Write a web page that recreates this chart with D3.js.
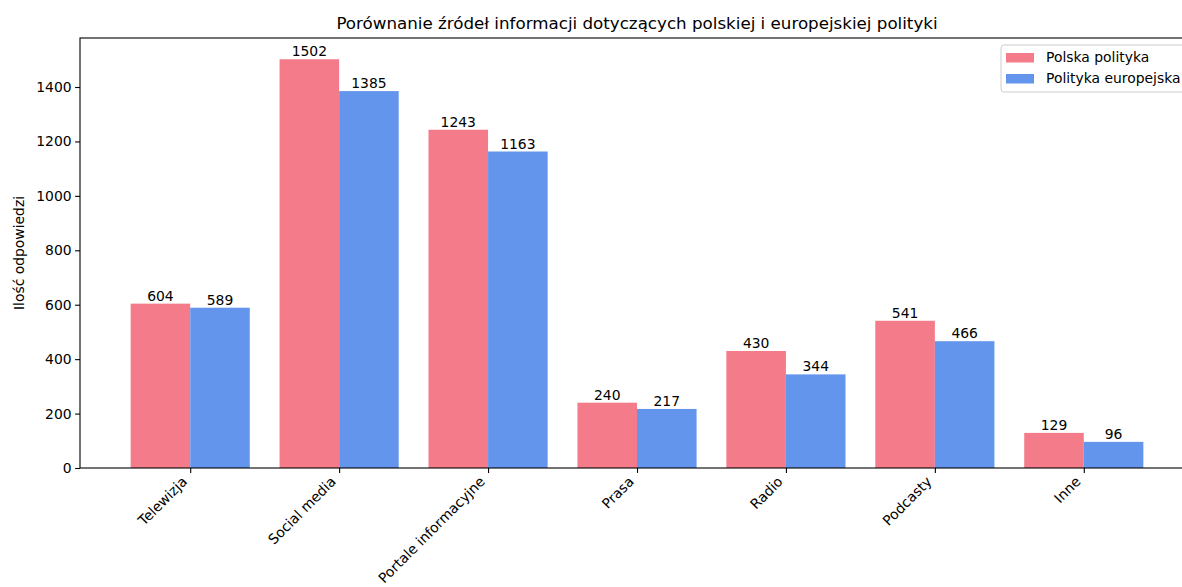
<!DOCTYPE html>
<html>
<head>
<meta charset="utf-8">
<script src="https://cdn.jsdelivr.net/npm/d3@7"></script>
<style>
  body { margin: 0; background: #fff; }
  svg text { font-family: "DejaVu Sans", sans-serif; fill: #000; }
</style>
</head>
<body>
<svg id="chart" width="1182" height="587"></svg>
<script>
const categories = ["Telewizja", "Social media", "Portale informacyjne", "Prasa", "Radio", "Podcasty", "Inne"];
const polskaValues = [604, 1502, 1243, 240, 430, 541, 129];
const europejskaValues = [589, 1385, 1163, 217, 344, 466, 96];
const seriesNames = ["Polska polityka", "Polityka europejska"];
const seriesColors = ["#f47c8a", "#6495ed"];
const yTicks = [0, 200, 400, 600, 800, 1000, 1200, 1400];

const svg = d3.select("#chart");
const axLeft = 80, axRight = 1194, axTop = 38, axBottom = 468;
const barW = 0.4;

// matplotlib style: bars from i-0.4 to i+0.4, 5% margins
const x = d3.scaleLinear().domain([-0.74, categories.length - 1 + 0.74]).range([axLeft, axRight]);
const yMax = d3.max(polskaValues.concat(europejskaValues)) * 1.052;
const y = d3.scaleLinear().domain([0, yMax]).range([axBottom, axTop]);

const series = [polskaValues, europejskaValues];
series.forEach((vals, s) => {
  const g = svg.append("g");
  const off = s === 0 ? -barW : 0;
  g.selectAll("rect").data(vals).enter().append("rect")
    .attr("x", (d, i) => x(i + off))
    .attr("width", x(barW) - x(0))
    .attr("y", d => y(d))
    .attr("height", d => axBottom - y(d))
    .attr("fill", seriesColors[s]);
  g.selectAll("text").data(vals).enter().append("text")
    .attr("x", (d, i) => x(i + off + barW / 2))
    .attr("y", d => y(d) - 3)
    .attr("text-anchor", "middle")
    .attr("font-size", "13.9px")
    .text(d => d);
});

// y axis
const yAxis = svg.append("g").attr("transform", `translate(${axLeft},0)`)
  .call(d3.axisLeft(y).tickValues(yTicks).tickFormat(d3.format("d")).tickSize(4.9).tickPadding(3.5));
yAxis.select(".domain").remove();
yAxis.selectAll("text").attr("font-size", "13.9px").attr("font-family", "DejaVu Sans");
yAxis.selectAll("line").attr("stroke", "#000").attr("stroke-width", 1.1);

// x axis
const xAxis = svg.append("g").attr("transform", `translate(0,${axBottom})`)
  .call(d3.axisBottom(x).tickValues(d3.range(categories.length)).tickSize(4.9).tickFormat(""));
xAxis.select(".domain").remove();
xAxis.selectAll("line").attr("stroke", "#000").attr("stroke-width", 1.1);

svg.append("g").selectAll("text").data(categories).enter().append("text")
  .attr("transform", (d, i) => `translate(${x(i) - 2.3},${axBottom + 14.5}) rotate(-45)`)
  .attr("text-anchor", "end")
  .attr("font-size", "13.9px")
  .text(d => d);

// spines
svg.append("rect")
  .attr("x", axLeft).attr("y", axTop)
  .attr("width", axRight - axLeft).attr("height", axBottom - axTop)
  .attr("fill", "none").attr("stroke", "#000").attr("stroke-width", 1.1);

// labels
svg.append("text")
  .attr("transform", `translate(24,${(axTop + axBottom) / 2}) rotate(-90)`)
  .attr("text-anchor", "middle")
  .attr("font-size", "13.9px")
  .text("Ilość odpowiedzi");

svg.append("text")
  .attr("x", (axLeft + axRight) / 2).attr("y", 29)
  .attr("text-anchor", "middle")
  .attr("font-size", "16.7px")
  .text("Porównanie źródeł informacji dotyczących polskiej i europejskiej polityki");

// legend
const lg = svg.append("g");
lg.append("rect")
  .attr("x", 1001).attr("y", 45).attr("width", 186).attr("height", 47)
  .attr("rx", 3).attr("fill", "#fff").attr("fill-opacity", 0.8)
  .attr("stroke", "#cccccc").attr("stroke-width", 1);
seriesNames.forEach((name, i) => {
  lg.append("rect")
    .attr("x", 1006).attr("y", 53 + i * 21).attr("width", 28).attr("height", 9.5)
    .attr("fill", seriesColors[i]);
  lg.append("text")
    .attr("x", 1046).attr("y", 62 + i * 21)
    .attr("font-size", "13.9px")
    .text(name);
});
</script>
</body>
</html>
